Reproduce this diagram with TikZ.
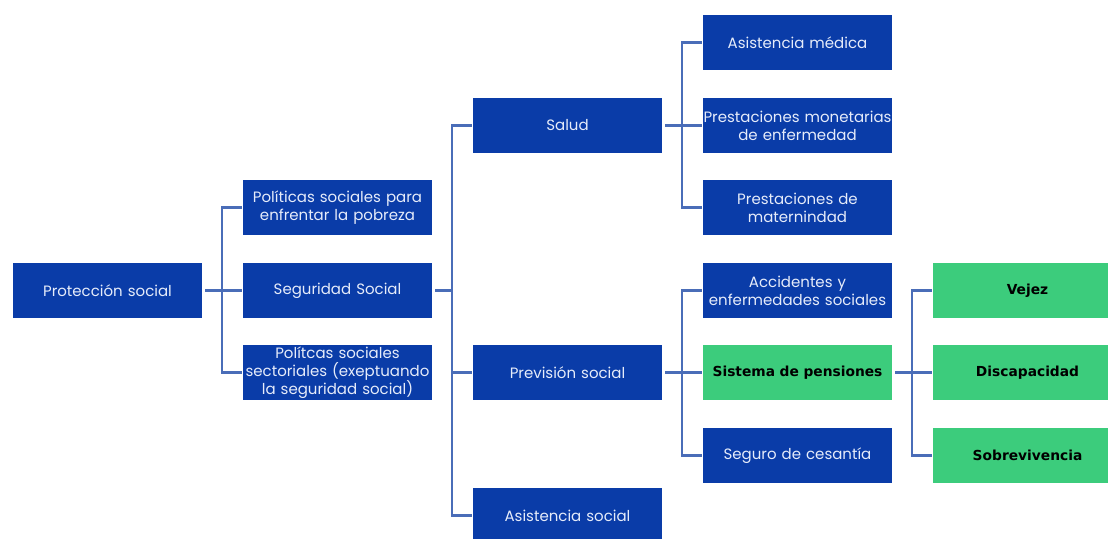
\documentclass[tikz,border=0pt]{standalone}
\usepackage{fontspec}
\setmainfont{Poppins}
\newfontfamily\gfont{DejaVu Sans}
\definecolor{boxblue}{HTML}{0A3CA8}
\definecolor{boxgreen}{HTML}{3CCC7C}
\definecolor{linkblue}{HTML}{4A6DB8}
\definecolor{txtlight}{HTML}{E6ECFA}
\tikzset{
  bbox/.style={fill=boxblue, draw=none, minimum width=189pt, minimum height=55pt,
    text width=189pt, align=center, inner sep=0pt, text=txtlight,
    font=\fontsize{15}{18}\selectfont},
  gbox/.style={fill=boxgreen, draw=none, minimum width=189pt, minimum height=55pt,
    text width=189pt, align=center, inner sep=0pt, text=black,
    font=\gfont\bfseries\fontsize{13.8}{17}\selectfont},
  conn/.style={draw=linkblue, line width=2.6pt},
}
\begin{document}
\begin{tikzpicture}[x=1pt,y=-1pt]
\clip (0,0) rectangle (1108,538);
\fill[white] (0,0) rectangle (1108,538);
% column 1
\node[bbox] (ps) at (107.5,290.5) {Protección social};
% column 2
\node[bbox] (pob) at (337.5,207.5) {Políticas sociales para\\enfrentar la pobreza};
\node[bbox] (ss) at (337.5,290.5) {Seguridad Social};
\node[bbox] (sec) at (337.5,372.5) {Polítcas sociales\\sectoriales (exeptuando\\la seguridad social)};
% column 3
\node[bbox] (sal) at (567.5,125.5) {Salud};
\node[bbox] (prev) at (567.5,372.5) {Previsión social};
\node[bbox] (asis) at (567.5,515.5) {Asistencia social};
% column 4
\node[bbox] (med) at (797.5,42.5) {Asistencia médica};
\node[bbox] (mon) at (797.5,125.5) {Prestaciones monetarias\\de enfermedad};
\node[bbox] (mat) at (797.5,207.5) {Prestaciones de\\maternindad};
\node[bbox] (acc) at (797.5,290.5) {Accidentes y\\enfermedades sociales};
\node[gbox] (pen) at (797.5,372.5) {Sistema de pensiones};
\node[bbox] (ces) at (797.5,455.5) {Seguro de cesantía};
% column 5
\node[gbox] (vej) at (1027.5,290.5) {Vejez};
\node[gbox] (dis) at (1027.5,372.5) {Discapacidad};
\node[gbox] (sob) at (1027.5,455.5) {Sobrevivencia};
% connectors
\draw[conn] ([xshift=3pt]ps.east) -- ([xshift=-1pt]ss.west);
\draw[conn] ([xshift=-1pt]pob.west) -- ++(-20,0) |- ([xshift=-1pt]sec.west);
\draw[conn] ([xshift=3pt]ss.east) -- ([xshift=-21pt]sal.west |- ss.east);
\draw[conn] ([xshift=-1pt]sal.west) -- ++(-20,0) |- ([xshift=-1pt]asis.west);
\draw[conn] ([xshift=-21pt]prev.west) -- ([xshift=-1pt]prev.west);
\draw[conn] ([xshift=3pt]sal.east) -- ([xshift=-1pt]mon.west);
\draw[conn] ([xshift=-1pt]med.west) -- ++(-20,0) |- ([xshift=-1pt]mat.west);
\draw[conn] ([xshift=3pt]prev.east) -- ([xshift=-1pt]pen.west);
\draw[conn] ([xshift=-1pt]acc.west) -- ++(-20,0) |- ([xshift=-1pt]ces.west);
\draw[conn] ([xshift=3pt]pen.east) -- ([xshift=-1pt]dis.west);
\draw[conn] ([xshift=-1pt]vej.west) -- ++(-20,0) |- ([xshift=-1pt]sob.west);
\end{tikzpicture}
\end{document}
